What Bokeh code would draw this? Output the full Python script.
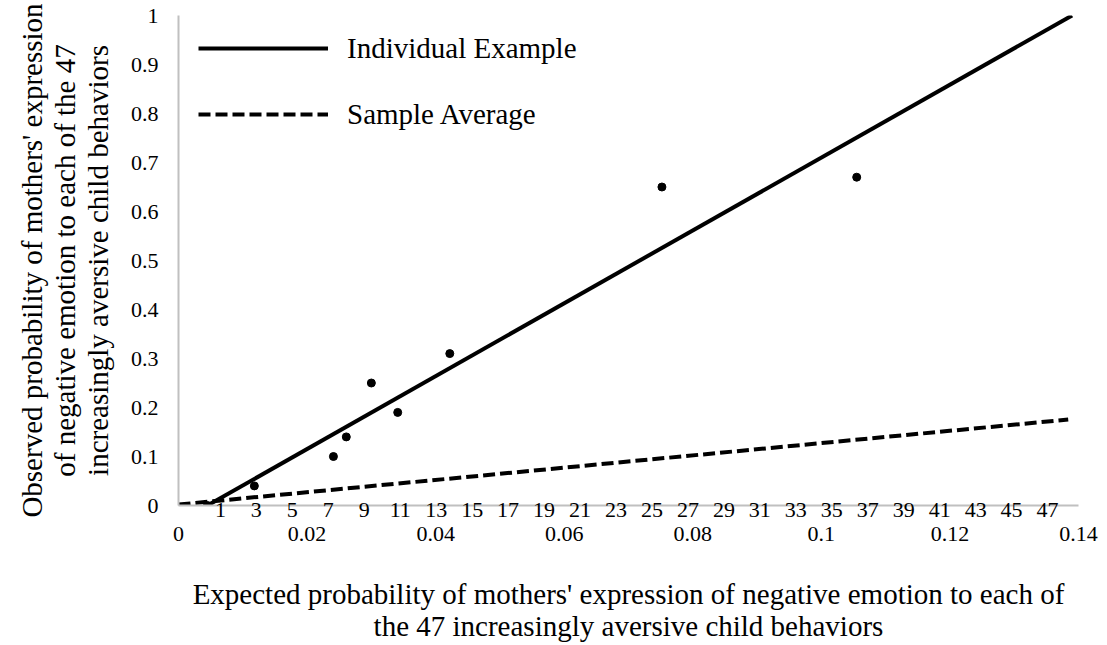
from bokeh.plotting import figure
from bokeh.models import (Range1d, FixedTicker, Legend, LegendItem, NumeralTickFormatter,
                          LinearAxis)
from bokeh.embed import file_html
from bokeh.resources import INLINE

# Observed vs. expected probability for one mother (points)
expected_prob = [0.0045, 0.0118, 0.0241, 0.0261, 0.0300, 0.0341, 0.0422, 0.0752, 0.1055]
observed_prob = [0.0, 0.04, 0.10, 0.14, 0.25, 0.19, 0.31, 0.65, 0.67]

# Fitted lines (end points)
individual_x = [0.0045, 0.139]
individual_y = [0.0, 1.0]
average_x = [0.0, 0.1384]
average_y = [0.002, 0.1755]

# Child behavior index labels along the x axis
behavior_labels = list(range(1, 48, 2))

x_ticks = [0, 0.02, 0.04, 0.06, 0.08, 0.1, 0.12, 0.14]
y_ticks = [0, 0.1, 0.2, 0.3, 0.4, 0.5, 0.6, 0.7, 0.8, 0.9, 1.0]

SERIF = "Liberation Serif"
AXIS_GREY = "#c0c0c0"

p = figure(
    width=1107, height=645,
    x_range=Range1d(0, 0.14), y_range=Range1d(0, 1),
    x_axis_type=None,
    output_backend="svg", toolbar_location=None,
    min_border_left=178, min_border_right=29,
    min_border_top=15, min_border_bottom=140,
)
p.extra_x_ranges = {"behavior": Range1d(-1.33, 48.72)}
p.outline_line_color = None
p.xgrid.visible = False
p.ygrid.visible = False
p.background_fill_color = "white"
p.border_fill_color = "white"


def style_axis(ax):
    ax.major_tick_line_color = None
    ax.minor_tick_line_color = None
    ax.major_tick_out = 0
    ax.major_tick_in = 0
    ax.major_label_text_font = SERIF
    ax.major_label_text_font_size = "22px"
    ax.major_label_text_color = "black"
    ax.axis_label_text_font = SERIF
    ax.axis_label_text_font_size = "29px"
    ax.axis_label_text_font_style = "normal"
    ax.axis_label_text_color = "black"
    ax.axis_label_text_line_height = 1.03


# Behavior numbers sit right on the horizontal axis line
behavior_axis = LinearAxis(x_range_name="behavior",
                           ticker=FixedTicker(ticks=behavior_labels))
style_axis(behavior_axis)
behavior_axis.axis_line_color = AXIS_GREY
behavior_axis.axis_line_width = 2
behavior_axis.major_label_standoff = -3
p.add_layout(behavior_axis, "below")

# Probability scale below it
prob_axis = LinearAxis(ticker=FixedTicker(ticks=x_ticks),
                       formatter=NumeralTickFormatter(format="0.[00]"))
style_axis(prob_axis)
prob_axis.axis_line_color = None
prob_axis.major_label_standoff = 7
prob_axis.axis_label = ("Expected probability of mothers' expression of negative emotion to each of\n"
                        "the 47 increasingly aversive child behaviors")
prob_axis.axis_label_standoff = 34
p.add_layout(prob_axis, "below")

yax = p.yaxis[0]
style_axis(yax)
yax.axis_line_color = AXIS_GREY
yax.axis_line_width = 2
yax.ticker = FixedTicker(ticks=y_ticks)
yax.formatter = NumeralTickFormatter(format="0.[0]")
yax.major_label_standoff = 20
yax.axis_label = ("Observed probability of mothers' expression\n"
                  "of negative emotion to each of the 47\n"
                  "increasingly aversive child behaviors")
yax.axis_label_standoff = 14

r_avg = p.line(average_x, average_y, line_color="black", line_width=4, line_dash="12 5")
r_ind = p.line(individual_x, individual_y, line_color="black", line_width=4)
p.scatter(expected_prob, observed_prob, size=8, color="black")

legend = Legend(
    items=[LegendItem(label="Individual Example", renderers=[r_ind]),
           LegendItem(label="Sample Average", renderers=[r_avg])],
    location=(20, 374), glyph_width=130, glyph_height=34, label_standoff=19,
    spacing=32, padding=0, margin=0,
    border_line_alpha=0, background_fill_alpha=0,
    label_text_font=SERIF, label_text_font_size="29px", label_text_color="black",
)
p.add_layout(legend)

open("out.html", "w").write(file_html(p, INLINE))
